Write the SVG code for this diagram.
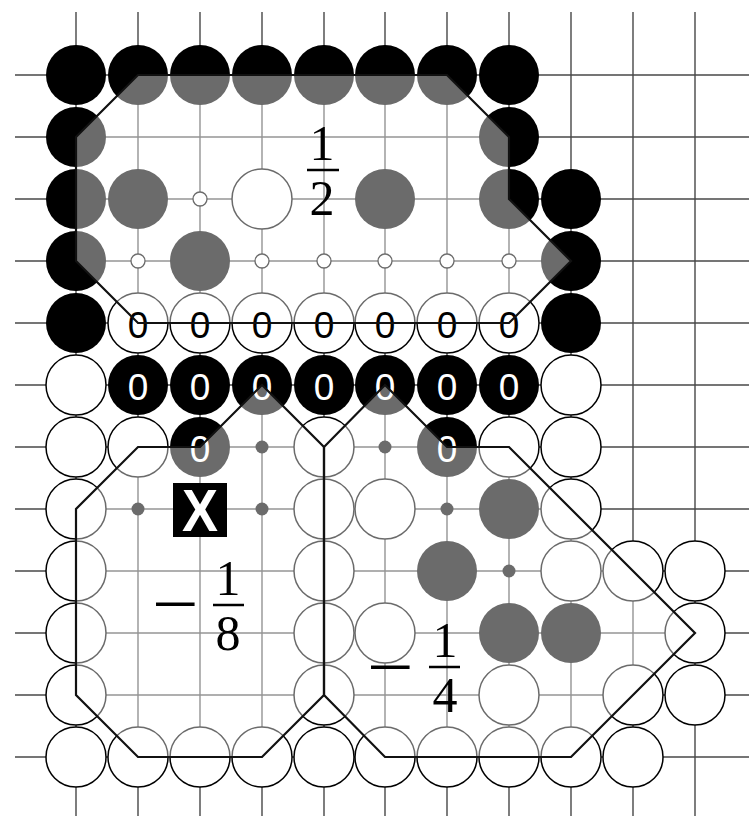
<svg xmlns="http://www.w3.org/2000/svg" width="749" height="816" viewBox="0 0 749 816">
<defs>
<style>
.grid{stroke:#484848;stroke-width:1.4;fill:none}
.b{fill:#000}
.w{fill:#fff;stroke:#000;stroke-width:1.5}
.e{fill:#fff;stroke:#000;stroke-width:1.3}
.d{fill:#000}
.ov{fill:#fff;fill-opacity:0.42;stroke:none}
.edge{fill:none;stroke:#111;stroke-width:2.2;stroke-linejoin:miter}
.zb{font-family:"Liberation Sans",Arial,sans-serif;font-size:37px;fill:#000;text-anchor:middle}
.zw{font-family:"Liberation Sans",Arial,sans-serif;font-size:37px;fill:#fff;text-anchor:middle}
.fr{font-family:"Liberation Serif","Times New Roman",serif;font-size:50px;fill:#000;text-anchor:middle}
.mi{stroke:#000;stroke-width:0.9}
.bar{stroke:#000;stroke-width:2.5}
</style>
</defs>
<rect width="749" height="816" fill="#fff"/>
<g id="grid" class="grid">
<path d="M15 75H749M15 137H749M15 199H749M15 261H749M15 323H749M15 385H749M15 447H749M15 509H749M15 571H749M15 633H749M15 695H749M15 757H749"/>
<path d="M76 12V816M138 12V816M200 12V816M262 12V816M324 12V816M385 12V816M447 12V816M509 12V816M571 12V816M633 12V816M695 12V816"/>
</g>
<g id="black-stones">
<circle class="b" cx="76" cy="75" r="30"/><circle class="b" cx="138" cy="75" r="30"/><circle class="b" cx="200" cy="75" r="30"/><circle class="b" cx="262" cy="75" r="30"/><circle class="b" cx="324" cy="75" r="30"/><circle class="b" cx="385" cy="75" r="30"/><circle class="b" cx="447" cy="75" r="30"/><circle class="b" cx="509" cy="75" r="30"/>
<circle class="b" cx="76" cy="137" r="30"/><circle class="b" cx="509" cy="137" r="30"/>
<circle class="b" cx="76" cy="199" r="30"/><circle class="b" cx="138" cy="199" r="30"/><circle class="b" cx="385" cy="199" r="30"/><circle class="b" cx="509" cy="199" r="30"/><circle class="b" cx="571" cy="199" r="30"/>
<circle class="b" cx="76" cy="261" r="30"/><circle class="b" cx="200" cy="261" r="30"/><circle class="b" cx="571" cy="261" r="30"/>
<circle class="b" cx="76" cy="323" r="30"/><circle class="b" cx="571" cy="323" r="30"/>
<circle class="b" cx="138" cy="385" r="30"/><circle class="b" cx="200" cy="385" r="30"/><circle class="b" cx="262" cy="385" r="30"/><circle class="b" cx="324" cy="385" r="30"/><circle class="b" cx="385" cy="385" r="30"/><circle class="b" cx="447" cy="385" r="30"/><circle class="b" cx="509" cy="385" r="30"/>
<circle class="b" cx="200" cy="447" r="30"/><circle class="b" cx="447" cy="447" r="30"/>
<circle class="b" cx="509" cy="509" r="30"/>
<circle class="b" cx="447" cy="571" r="30"/>
<circle class="b" cx="509" cy="633" r="30"/><circle class="b" cx="571" cy="633" r="30"/>
</g>
<g id="white-stones">
<circle class="w" cx="262" cy="199" r="30"/>
<circle class="w" cx="138" cy="323" r="30"/><circle class="w" cx="200" cy="323" r="30"/><circle class="w" cx="262" cy="323" r="30"/><circle class="w" cx="324" cy="323" r="30"/><circle class="w" cx="385" cy="323" r="30"/><circle class="w" cx="447" cy="323" r="30"/><circle class="w" cx="509" cy="323" r="30"/>
<circle class="w" cx="76" cy="385" r="30"/><circle class="w" cx="571" cy="385" r="30"/>
<circle class="w" cx="76" cy="447" r="30"/><circle class="w" cx="138" cy="447" r="30"/><circle class="w" cx="324" cy="447" r="30"/><circle class="w" cx="509" cy="447" r="30"/><circle class="w" cx="571" cy="447" r="30"/>
<circle class="w" cx="76" cy="509" r="30"/><circle class="w" cx="324" cy="509" r="30"/><circle class="w" cx="385" cy="509" r="30"/><circle class="w" cx="571" cy="509" r="30"/>
<circle class="w" cx="76" cy="571" r="30"/><circle class="w" cx="324" cy="571" r="30"/><circle class="w" cx="571" cy="571" r="30"/><circle class="w" cx="633" cy="571" r="30"/><circle class="w" cx="695" cy="571" r="30"/>
<circle class="w" cx="76" cy="633" r="30"/><circle class="w" cx="324" cy="633" r="30"/><circle class="w" cx="385" cy="633" r="30"/><circle class="w" cx="695" cy="633" r="30"/>
<circle class="w" cx="76" cy="695" r="30"/><circle class="w" cx="324" cy="695" r="30"/><circle class="w" cx="509" cy="695" r="30"/><circle class="w" cx="633" cy="695" r="30"/><circle class="w" cx="695" cy="695" r="30"/>
<circle class="w" cx="76" cy="757" r="30"/><circle class="w" cx="138" cy="757" r="30"/><circle class="w" cx="200" cy="757" r="30"/><circle class="w" cx="262" cy="757" r="30"/><circle class="w" cx="324" cy="757" r="30"/><circle class="w" cx="385" cy="757" r="30"/><circle class="w" cx="447" cy="757" r="30"/><circle class="w" cx="509" cy="757" r="30"/><circle class="w" cx="571" cy="757" r="30"/><circle class="w" cx="633" cy="757" r="30"/>
</g>
<g id="markers">
<circle class="e" cx="200" cy="199" r="7"/>
<circle class="e" cx="138" cy="261" r="7"/><circle class="e" cx="262" cy="261" r="7"/><circle class="e" cx="324" cy="261" r="7"/><circle class="e" cx="385" cy="261" r="7"/><circle class="e" cx="447" cy="261" r="7"/><circle class="e" cx="509" cy="261" r="7"/>
<circle class="d" cx="262" cy="447" r="6.5"/><circle class="d" cx="385" cy="447" r="6.5"/>
<circle class="d" cx="138" cy="509" r="6.5"/><circle class="d" cx="262" cy="509" r="6.5"/><circle class="d" cx="447" cy="509" r="6.5"/>
<circle class="d" cx="509" cy="571" r="6.5"/>
</g>
<g id="overlay">
<polygon class="ov" points="138,75 447,75 509,137 509,199 571,261 509,323 138,323 76,261 76,137"/>
<polygon class="ov" points="138,447 200,447 262,385 324,447 324,695 262,757 138,757 76,695 76,509"/>
<polygon class="ov" points="324,447 385,385 447,447 509,447 695,633 571,757 385,757 324,695"/>
</g>
<g id="labels">
<text class="zb" x="138" y="337.5">0</text><text class="zb" x="200" y="337.5">0</text><text class="zb" x="262" y="337.5">0</text><text class="zb" x="324" y="337.5">0</text><text class="zb" x="385" y="337.5">0</text><text class="zb" x="447" y="337.5">0</text><text class="zb" x="509" y="337.5">0</text>
<text class="zw" x="138" y="399.5">0</text><text class="zw" x="200" y="399.5">0</text><text class="zw" x="262" y="399.5">0</text><text class="zw" x="324" y="399.5">0</text><text class="zw" x="385" y="399.5">0</text><text class="zw" x="447" y="399.5">0</text><text class="zw" x="509" y="399.5">0</text>
<text class="zw" x="200" y="461.5">0</text><text class="zw" x="447" y="461.5">0</text>
<g id="x-mark">
<rect x="173" y="483" width="54" height="54" fill="#000"/>
<text x="200" y="531" font-family="'Liberation Sans',Arial,sans-serif" font-weight="bold" font-size="60" fill="#fff" text-anchor="middle" textLength="36" lengthAdjust="spacingAndGlyphs">X</text>
</g>
</g>
<g id="region-edges">
<polygon class="edge" points="138,75 447,75 509,137 509,199 571,261 509,323 138,323 76,261 76,137"/>
<polygon class="edge" points="138,447 200,447 262,385 324,447 324,695 262,757 138,757 76,695 76,509"/>
<polygon class="edge" points="324,447 385,385 447,447 509,447 695,633 571,757 385,757 324,695"/>
</g>
<g id="values">
<g id="v-half">
<text class="fr" x="322" y="160">1</text>
<line class="bar" x1="307" y1="170" x2="339" y2="170"/>
<text class="fr" x="322" y="215">2</text>
</g>
<g id="v-eighth">
<text class="fr mi" x="175" y="621" textLength="45" lengthAdjust="spacingAndGlyphs">−</text>
<text class="fr" x="228" y="595">1</text>
<line class="bar" x1="213" y1="605" x2="244" y2="605"/>
<text class="fr" x="228" y="650">8</text>
</g>
<g id="v-quarter">
<text class="fr mi" x="390" y="684" textLength="45" lengthAdjust="spacingAndGlyphs">−</text>
<text class="fr" x="445" y="657">1</text>
<line class="bar" x1="429" y1="667" x2="460" y2="667"/>
<text class="fr" x="445" y="712">4</text>
</g>
</g>
</svg>
